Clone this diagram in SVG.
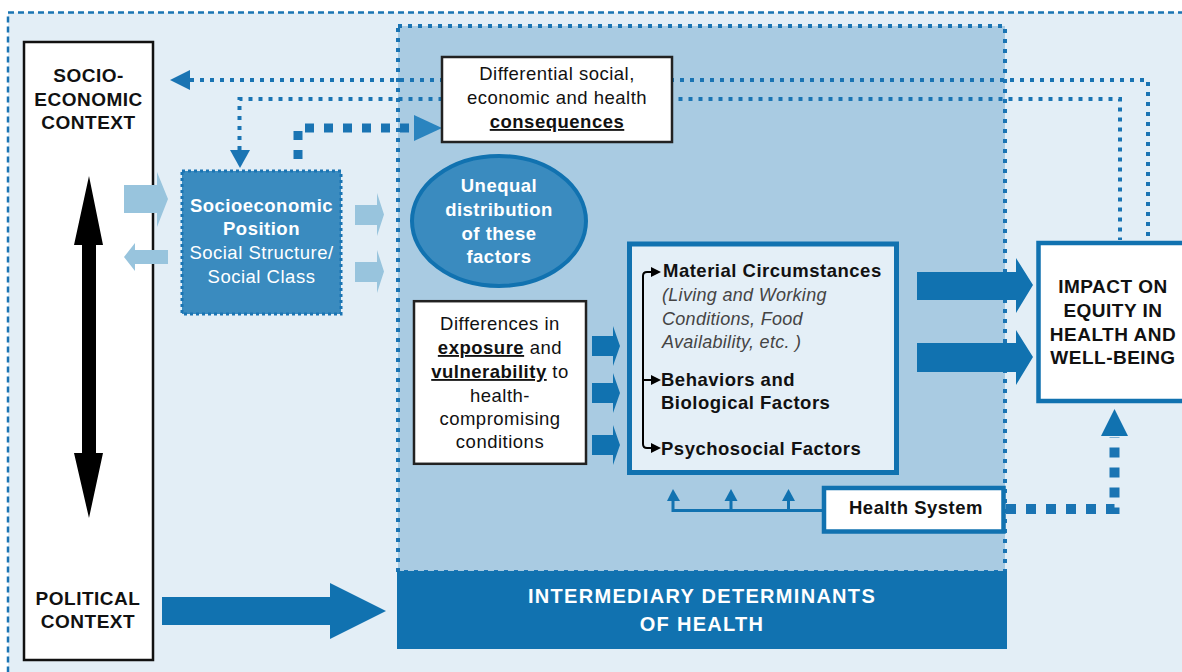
<svg xmlns="http://www.w3.org/2000/svg" width="1182" height="672" viewBox="0 0 1182 672">
<style>
.t{font-family:"Liberation Sans",Arial,sans-serif;font-size:18.5px;letter-spacing:0.5px;fill:#111}
.b{font-weight:bold}
.w{fill:#fff}
.c{text-anchor:middle}
.i{font-style:italic;fill:#444;font-size:18px;letter-spacing:0.3px}
.u{text-decoration:underline}
.dot{fill:none;stroke:#1a74b3;stroke-width:4;stroke-dasharray:4 6}
.big{fill:none;stroke:#1a74b3;stroke-width:9;stroke-dasharray:9 10}
.dk{fill:#1172b0}
.lt{fill:#98c4dd}
</style>
<rect width="1182" height="672" fill="#fff"/>
<rect x="8" y="12.5" width="1200" height="680" fill="#e3eef6" stroke="#1a74b3" stroke-width="2.5" stroke-dasharray="6 4"/>
<!-- middle region -->
<rect x="398" y="26" width="607" height="546" fill="#a9cbe2" stroke="#1a74b3" stroke-width="4" stroke-dasharray="4 6"/>
<g id="intermediary-bar">
<rect x="397" y="571" width="610" height="78" class="dk"/>
<text class="t b w c" x="702" y="603" style="font-size:20px;letter-spacing:1.3px">INTERMEDIARY DETERMINANTS</text>
<text class="t b w c" x="702" y="631" style="font-size:20px;letter-spacing:1.3px">OF HEALTH</text>
</g>
<g id="connectors">
<path class="dot" d="M190,80 H1148 V237"/>
<polygon points="170,80 190,70 190,90" fill="#1a74b3"/>
<path class="dot" d="M239.5,150 V99 H1120 V240"/>
<polygon points="230,150 250,150 240,168" fill="#1a74b3"/>
<path class="big" d="M298,159 V128 H414"/>
<polygon points="414,115 442,128 414,141" fill="#2a84bf"/>
<path class="big" d="M1006,509 H1114.5 V437" style="stroke-width:10;stroke-dasharray:10 10"/>
<polygon points="1101,436 1114.5,409 1128,436" class="dk"/>
<!-- health system tree -->
<path d="M824,510.5 H673 V498 M731,510.5 V498 M788.5,510.5 V498" fill="none" stroke="#1172b0" stroke-width="3"/>
<polygon points="667,501 673,489 680,501" class="dk"/>
<polygon points="724.5,501 731,489 737.5,501" class="dk"/>
<polygon points="782,501 788.5,489 795,501" class="dk"/>
<!-- big arrows -->
<polygon points="162,597 330,597 330,583 386,611 330,639 330,625 162,625" class="dk"/>
<polygon points="917,272 1016,272 1016,258 1033,285 1016,313 1016,300 917,300" class="dk"/>
<polygon points="917,343 1016,343 1016,330 1033,357 1016,385 1016,372 917,372" class="dk"/>
<polygon points="592,336 613,336 613,326 620,346 613,366 613,356 592,356" class="dk"/>
<polygon points="592,383 613,383 613,373 620,393 613,413 613,403 592,403" class="dk"/>
<polygon points="592,435 613,435 613,425 620,445 613,465 613,455 592,455" class="dk"/>
<!-- light arrows -->
<polygon points="355,205 377,205 377,193 384,214.5 377,236 377,225 355,225" class="lt"/>
<polygon points="355,262 377,262 377,250 384,271.5 377,293 377,282 355,282" class="lt"/>
</g>
<g id="context">
<rect x="24" y="42" width="129" height="618" fill="#fff" stroke="#111" stroke-width="2.5"/>
<text class="t b c" x="88.5" y="82" style="font-size:19px">SOCIO-</text>
<text class="t b c" x="88.5" y="106" style="font-size:19px">ECONOMIC</text>
<text class="t b c" x="88.5" y="129" style="font-size:19px">CONTEXT</text>
<text class="t b c" x="88" y="605" style="font-size:19px">POLITICAL</text>
<text class="t b c" x="88" y="628" style="font-size:19px">CONTEXT</text>
<polygon points="89,176 103,245 96,245 96,453 103,453 89,518 74,453 82,453 82,245 74,245" fill="#000"/>
</g>
<g id="context-arrows">
<polygon points="124,185 157,185 157,172 168,199 157,227 157,213 124,213" class="lt"/>
<polygon points="168,250 135,250 135,243 124,257 135,271 135,264 168,264" class="lt"/>
</g>
<g id="sep">
<rect x="182" y="171" width="159" height="143" fill="#3a8bbf" stroke="#1a74b3" stroke-width="3" stroke-dasharray="3 3"/>
<text class="t b w c" x="261.5" y="212">Socioeconomic</text>
<text class="t b w c" x="261.5" y="235">Position</text>
<text class="t w c" x="261.5" y="259">Social Structure/</text>
<text class="t w c" x="261.5" y="283">Social Class</text>
</g>
<g id="consequences">
<rect x="442" y="57" width="230" height="85" fill="#fff" stroke="#222" stroke-width="2.5"/>
<text class="t c" x="557" y="80">Differential social,</text>
<text class="t c" x="557" y="104">economic and health</text>
<text class="t b c u" x="557" y="128">consequences</text>
</g>
<g id="unequal">
<ellipse cx="499" cy="221" rx="87" ry="65" fill="#3a8bbf" stroke="#1172b0" stroke-width="4"/>
<text class="t b w c" x="499" y="192">Unequal</text>
<text class="t b w c" x="499" y="216">distribution</text>
<text class="t b w c" x="499" y="240">of these</text>
<text class="t b w c" x="499" y="263">factors</text>
</g>
<g id="differences">
<rect x="414" y="301.2" width="172" height="162.6" fill="#fff" stroke="#222" stroke-width="2.5"/>
<text class="t c" x="500" y="330">Differences in</text>
<text class="t c" x="500" y="354"><tspan class="b u">exposure</tspan> and</text>
<text class="t c" x="500" y="378"><tspan class="b u">vulnerability</tspan> to</text>
<text class="t c" x="500" y="402">health-</text>
<text class="t c" x="500" y="425">compromising</text>
<text class="t c" x="500" y="448">conditions</text>
</g>
<g id="factors">
<rect x="629.5" y="244" width="267" height="228.5" fill="#e4eff7" stroke="#1172b0" stroke-width="5"/>
<path d="M652,272 H647 Q643,272 643,276 V444 Q643,448 647,448 H652 M643,380 H652" fill="none" stroke="#000" stroke-width="2"/>
<polygon points="651,267 661,272 651,277" fill="#000"/>
<polygon points="651,375 661,380 651,385" fill="#000"/>
<polygon points="651,443 661,448 651,453" fill="#000"/>
<text class="t b" x="663" y="277">Material Circumstances</text>
<text class="t i" x="662" y="301">(Living and Working</text>
<text class="t i" x="662" y="325">Conditions, Food</text>
<text class="t i" x="662" y="348">Availability, etc. )</text>
<text class="t b" x="661" y="386">Behaviors and</text>
<text class="t b" x="661" y="409">Biological Factors</text>
<text class="t b" x="661" y="455">Psychosocial Factors</text>
</g>
<g id="health-system">
<rect x="824" y="488" width="179.5" height="43.5" fill="#fff" stroke="#1172b0" stroke-width="4.5"/>
<text class="t b c" x="916" y="514">Health System</text>
</g>
<g id="impact">
<rect x="1038.5" y="243" width="200" height="158" fill="#fff" stroke="#1172b0" stroke-width="4.5"/>
<text class="t b c" x="1113" y="293" style="font-size:19px">IMPACT ON</text>
<text class="t b c" x="1113" y="317" style="font-size:19px">EQUITY IN</text>
<text class="t b c" x="1113" y="341" style="font-size:19px">HEALTH AND</text>
<text class="t b c" x="1113" y="364" style="font-size:19px">WELL-BEING</text>
</g>
</svg>
